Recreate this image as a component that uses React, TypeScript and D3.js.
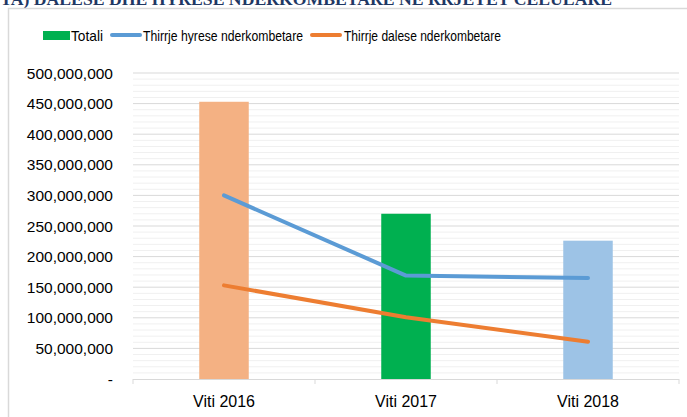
import React from "react";
import * as d3 from "d3";

const categories = ["Viti 2016", "Viti 2017", "Viti 2018"];
const totali = [453000000, 270000000, 226000000];
const hyrese = [300000000, 169000000, 165000000];
const dalese = [153000000, 101000000, 61000000];
const barColors = ["#F4B183", "#00B050", "#9DC3E6"];
const yTicks = [0, 50000000, 100000000, 150000000, 200000000, 250000000, 300000000, 350000000, 400000000, 450000000, 500000000];
const legendLabels = ["Totali", "Thirrje hyrese nderkombetare", "Thirrje dalese nderkombetare"];
const titleText = "TA) DALESE DHE HYRESE NDERKOMBETARE NE RRJETET CELULARE";

const W = 687;
const H = 417;
const left = 133;
const right = 679;
const top = 73;
const bottom = 379;
const FONT = "'Liberation Sans', Arial, sans-serif";

export default function App() {
  const x = d3.scaleBand<string>().domain(categories).range([left, right]).paddingInner(0).paddingOuter(0);
  const y = d3.scaleLinear().domain([0, 500000000]).range([bottom, top]);
  const minor = d3.range(0, 500000001, 10000000).filter((v) => v % 50000000 !== 0);
  const fmt = d3.format(",");
  const barW = 49.5;
  const cx = (c: string) => (x(c) as number) + x.bandwidth() / 2;
  const line = d3
    .line<number>()
    .x((_, i) => cx(categories[i]))
    .y((v) => y(v));

  return (
    <svg width={W} height={H} style={{ position: "absolute", left: 0, top: 0, background: "#fff" }}>
      <text x={612} y={5} textAnchor="end" fontFamily="'Liberation Serif', 'Times New Roman', serif" fontWeight="bold" fontSize={17.7} fill="#1F3864">
        {titleText}
      </text>
      <rect x={8.5} y={8.5} width={720} height={440} fill="none" stroke="#D9D9D9" strokeWidth={1.5} />

      {/* legend */}
      <g fontFamily={FONT} fontSize={15} fill="#000">
        <rect x={43} y={31} width={27} height={9} fill={barColors[1]} />
        <text x={71} y={40.5} textLength={32} lengthAdjust="spacingAndGlyphs">{legendLabels[0]}</text>
        <line x1={112} x2={140} y1={35} y2={35} stroke="#5B9BD5" strokeWidth={4} strokeLinecap="round" />
        <text x={143} y={40.5} textLength={160} lengthAdjust="spacingAndGlyphs">{legendLabels[1]}</text>
        <line x1={312} x2={340} y1={35} y2={35} stroke="#ED7D31" strokeWidth={4} strokeLinecap="round" />
        <text x={344} y={40.5} textLength={157} lengthAdjust="spacingAndGlyphs">{legendLabels[2]}</text>
      </g>

      {/* grid */}
      {minor.map((v) => (
        <line key={"m" + v} x1={left} x2={right} y1={y(v)} y2={y(v)} stroke="#F0F0F0" strokeWidth={1} />
      ))}
      {yTicks.filter((v) => v > 0).map((v) => (
        <line key={"g" + v} x1={left} x2={right} y1={y(v)} y2={y(v)} stroke="#D9D9D9" strokeWidth={1} />
      ))}

      {/* y labels */}
      <g fontFamily={FONT} fontSize={15.5} fill="#000" textAnchor="end">
        {yTicks.map((v) => (
          <text key={"t" + v} x={113} y={y(v) + 5.5}>
            {v === 0 ? "-" : fmt(v)}
          </text>
        ))}
      </g>

      {/* bars */}
      {categories.map((c, i) => (
        <rect key={c} x={cx(c) - barW / 2} y={y(totali[i])} width={barW} height={bottom - y(totali[i])} fill={barColors[i]} />
      ))}

      {/* x axis */}
      <line x1={left} x2={right} y1={bottom + 0.5} y2={bottom + 0.5} stroke="#D9D9D9" strokeWidth={1} />
      {[...categories.map((c) => x(c) as number), right].map((t, i) => (
        <line key={"xt" + i} x1={t} x2={t} y1={bottom} y2={bottom + 5} stroke="#D9D9D9" strokeWidth={1} />
      ))}
      <g fontFamily={FONT} fontSize={16} fill="#000" textAnchor="middle">
        {categories.map((c) => (
          <text key={"xl" + c} x={cx(c)} y={407}>
            {c}
          </text>
        ))}
      </g>

      {/* lines */}
      <path d={line(hyrese) as string} fill="none" stroke="#5B9BD5" strokeWidth={4} strokeLinecap="round" strokeLinejoin="round" />
      <path d={line(dalese) as string} fill="none" stroke="#ED7D31" strokeWidth={4} strokeLinecap="round" strokeLinejoin="round" />
    </svg>
  );
}
